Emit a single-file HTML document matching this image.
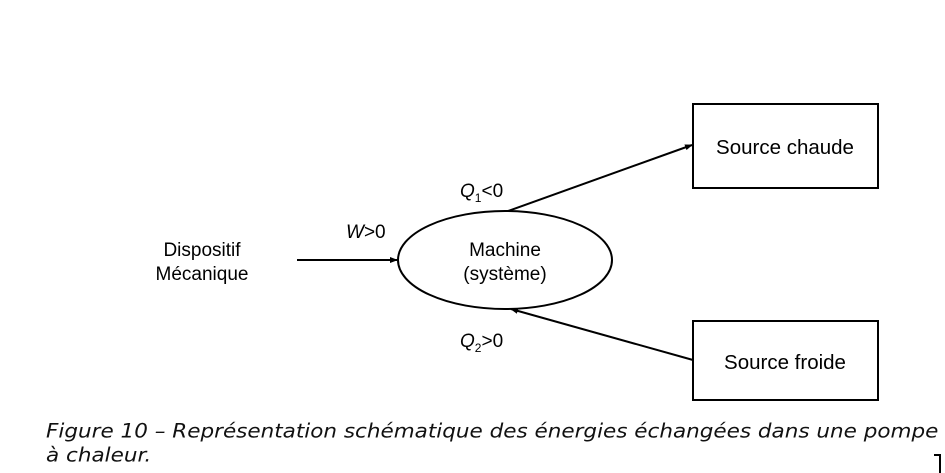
<!DOCTYPE html>
<html><head><meta charset="utf-8"><style>
body{margin:0;width:945px;height:473px;background:#fff;overflow:hidden;position:relative}
svg{position:absolute;left:0;top:0}
.cap{position:absolute;left:46px;font-family:"DejaVu Sans",sans-serif;font-style:italic;font-size:21.5px;color:#111;white-space:nowrap;transform-origin:0 0;transform:scaleY(0.92)}
</style></head><body>
<svg width="945" height="473" font-family="'Liberation Sans',sans-serif" font-size="19">
<defs><marker id="a" markerWidth="8" markerHeight="8" refX="7" refY="4" orient="auto" markerUnits="userSpaceOnUse"><path d="M0,1 L8,4 L0,7z" fill="#000"/></marker></defs>
<rect x="693" y="104" width="185" height="84" fill="none" stroke="#000" stroke-width="2"/>
<rect x="693" y="321" width="185" height="79" fill="none" stroke="#000" stroke-width="2"/>
<ellipse cx="505" cy="260" rx="107" ry="49" fill="none" stroke="#000" stroke-width="2"/>
<line x1="297" y1="260" x2="397" y2="260" stroke="#000" stroke-width="2" marker-end="url(#a)"/>
<line x1="508" y1="211" x2="692" y2="145" stroke="#000" stroke-width="2" marker-end="url(#a)"/>
<line x1="693" y1="360" x2="511" y2="309" stroke="#000" stroke-width="2" marker-end="url(#a)"/>
<text x="785" y="154" text-anchor="middle" font-size="20.5">Source chaude</text>
<text x="785" y="369" text-anchor="middle" font-size="20.5">Source froide</text>
<text x="505" y="256" text-anchor="middle">Machine</text>
<text x="505" y="280" text-anchor="middle">(système)</text>
<text x="202" y="256" text-anchor="middle">Dispositif</text>
<text x="202" y="280" text-anchor="middle">Mécanique</text>
<text x="346" y="238" font-size="19"><tspan font-style="italic">W</tspan>&gt;0</text>
<text x="460" y="197" font-size="19"><tspan font-style="italic">Q</tspan><tspan font-size="12" dy="5">1</tspan><tspan dy="-5">&lt;0</tspan></text>
<text x="460" y="347" font-size="19"><tspan font-style="italic">Q</tspan><tspan font-size="12" dy="5">2</tspan><tspan dy="-5">&gt;0</tspan></text>
<path d="M934,455 h6 v18" fill="none" stroke="#000" stroke-width="2"/>
</svg>
<div class="cap" style="top:420px">Figure 10 –  Représentation schématique des énergies échangées dans une pompe</div>
<div class="cap" style="top:444px">à chaleur.</div>
</body></html>
